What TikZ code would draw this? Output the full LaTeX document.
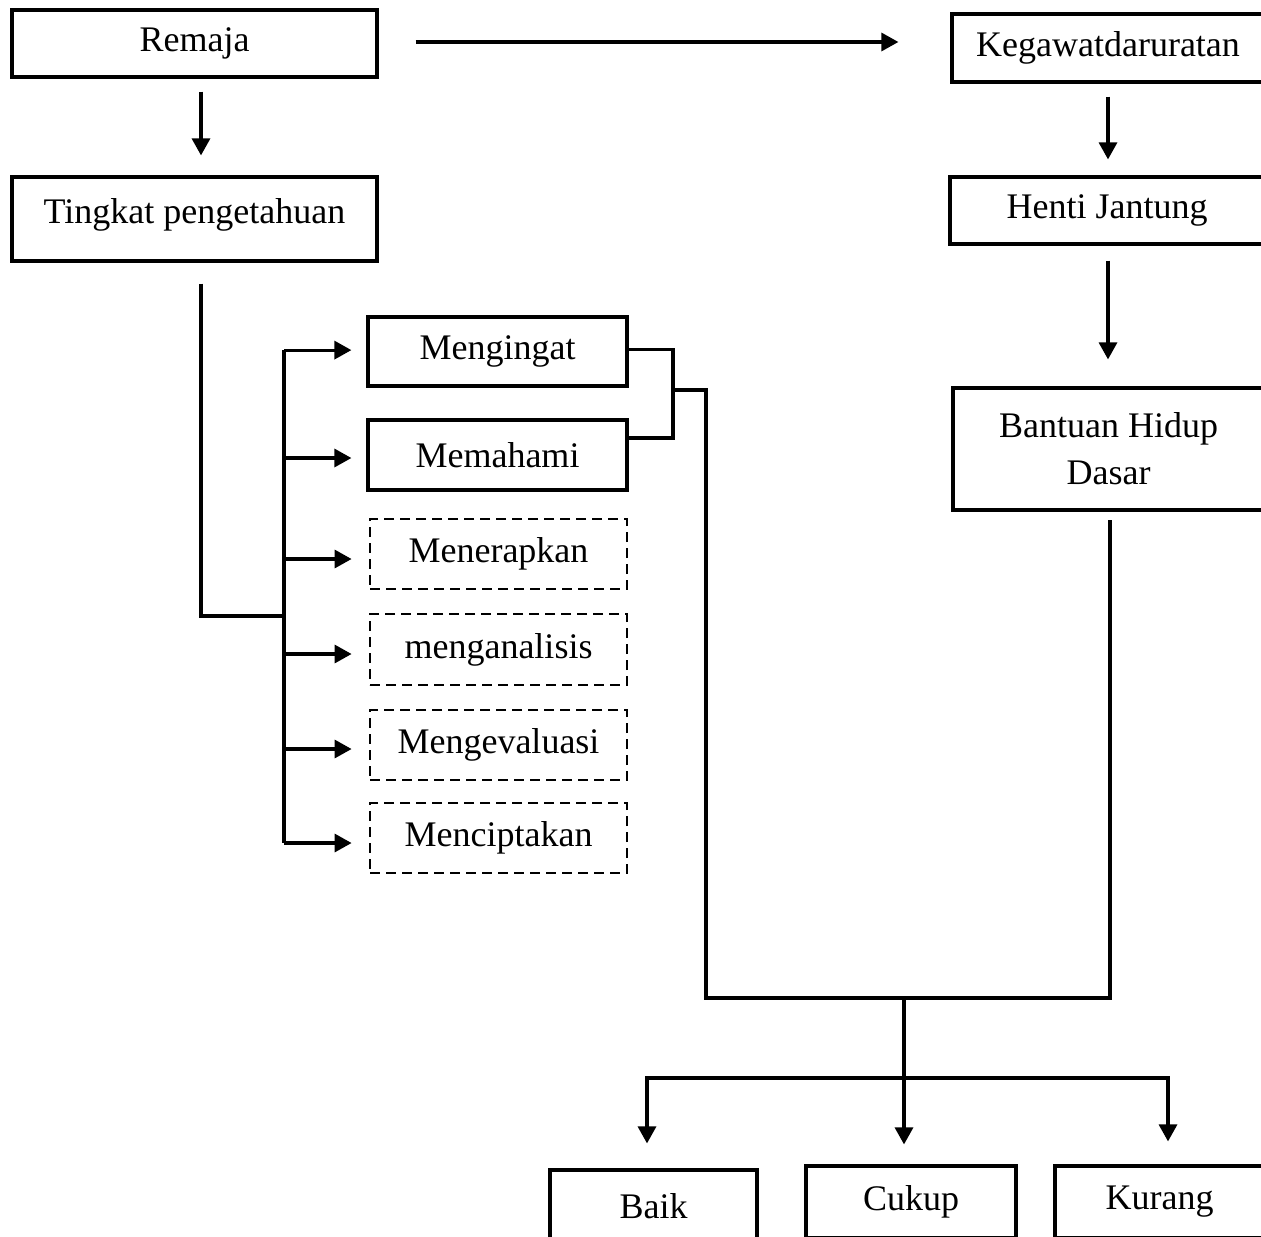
\documentclass[tikz,border=0pt]{standalone}
\usepackage{fontspec}
\setmainfont{Liberation Serif}
\usetikzlibrary{arrows.meta}
\tikzset{
  box/.style={draw, line width=1.6pt, rectangle, inner sep=0pt, align=center,
    font=\fontsize{18}{23.5}\selectfont},
  dbox/.style={box, line width=1.4pt, dash pattern=on 5pt off 3pt},
  conn/.style={line width=1.6pt},
  arr/.style={conn, -{Triangle[length=8.5pt,width=9pt]}}
}
\begin{document}
\begin{tikzpicture}[x={0.5pt}, y={-0.5pt}]
\useasboundingbox (0,0) rectangle (1261,1236);
\clip (0,0) rectangle (1261,1236);
\fill[white] (0,0) rectangle (1261,1236);

% left column
\node[box, minimum width=182.5pt, minimum height=33.5pt] (remaja) at (194.5,43.5) {Remaja};
\node[box, minimum width=182.5pt, minimum height=42pt, text depth=8pt] (tingkat) at (194.5,219) {Tingkat pengetahuan};

% right column
\node[box, minimum width=156pt, minimum height=34pt] (kegawat) at (1108,48) {Kegawatdaruratan};
\node[box, minimum width=157pt, minimum height=33.5pt] (henti) at (1107,210.5) {Henti Jantung};
\node[box, minimum width=155.5pt, minimum height=61pt] (bantuan) at (1108.5,449) {Bantuan Hidup\\Dasar};

% middle column
\node[box, minimum width=129.5pt, minimum height=34.5pt] (mengingat) at (497.5,351.5) {Mengingat};
\node[box, minimum width=129.5pt, minimum height=35pt] (memahami) at (497.5,455) {Memahami};
\node[dbox, minimum width=128.5pt, minimum height=35pt] (menerapkan) at (498.5,554) {Menerapkan};
\node[dbox, minimum width=128.5pt, minimum height=35.5pt] (menganalisis) at (498.5,649.5) {menganalisis};
\node[dbox, minimum width=128.5pt, minimum height=35pt] (mengevaluasi) at (498.5,745) {Mengevaluasi};
\node[dbox, minimum width=128.5pt, minimum height=35pt] (menciptakan) at (498.5,838) {Menciptakan};

% bottom
\node[box, minimum width=103.5pt, minimum height=36pt] (baik) at (653.5,1206) {Baik};
\node[box, minimum width=105pt, minimum height=36pt] (cukup) at (911,1202) {Cukup};
\node[box, minimum width=104.5pt, minimum height=36pt] (kurang) at (1159.5,1202) {Kurang};

% junction coordinates
\coordinate (j) at (284,616);
\coordinate (b) at (673,390);
\coordinate (c) at (706,998);
\coordinate (m) at (904,998);
\coordinate (k) at (904,1078);

% top connectors
\draw[arr, shorten <=18.5pt, shorten >=26pt] ([yshift=0.75pt]remaja.east) -- ([yshift=0.75pt]remaja.east -| kegawat.west);
\draw[arr, shorten <=6.5pt, shorten >=10pt] ([xshift=3.25pt]remaja.south) -- ([xshift=3.25pt]tingkat.north);
\draw[arr, shorten <=6.5pt, shorten >=8pt] (kegawat.south) -- (kegawat.south |- henti.north);
\draw[arr, shorten <=7.5pt, shorten >=13.5pt] ([xshift=0.5pt]henti.south) -- ([xshift=0.5pt]henti.south |- bantuan.north);

% tingkat trunk
\draw[conn, shorten <=10.5pt] ([xshift=3.25pt]tingkat.south) |- (j);
\draw[conn] ([yshift=0.7pt]j |- mengingat.west) -- ([yshift=-2.5pt]j |- menciptakan.west);
\draw[arr, shorten >=7.5pt] ([yshift=0.7pt]j |- mengingat.west) -- ([yshift=0.7pt]mengingat.west);
\draw[arr, shorten >=7.5pt] ([yshift=-1.5pt]j |- memahami.west) -- ([yshift=-1.5pt]memahami.west);
\draw[arr, shorten >=8.5pt] ([yshift=-2.5pt]j |- menerapkan.west) -- ([yshift=-2.5pt]menerapkan.west);
\draw[arr, shorten >=8.5pt] ([yshift=-2.25pt]j |- menganalisis.west) -- ([yshift=-2.25pt]menganalisis.west);
\draw[arr, shorten >=8.5pt] ([yshift=-2pt]j |- mengevaluasi.west) -- ([yshift=-2pt]mengevaluasi.west);
\draw[arr, shorten >=8.5pt] ([yshift=-2.5pt]j |- menciptakan.west) -- ([yshift=-2.5pt]menciptakan.west);

% bracket and merge
\draw[conn] ([yshift=1pt]mengingat.east) -| (b) |- ([yshift=8.5pt]memahami.east);
\draw[conn, shorten >=4pt] (b) -| (c) -| ([xshift=0.75pt]bantuan.south);
\draw[conn] (m) -- (k);

% bottom arrows
\draw[arr, shorten >=10pt] (k) -- (k |- cukup.north);
\draw[arr, shorten >=12.5pt] (k) -| ([xshift=-3.25pt]baik.north);
\draw[arr, shorten >=11.5pt] (k) -| ([xshift=4.25pt]kurang.north);
\end{tikzpicture}
\end{document}
